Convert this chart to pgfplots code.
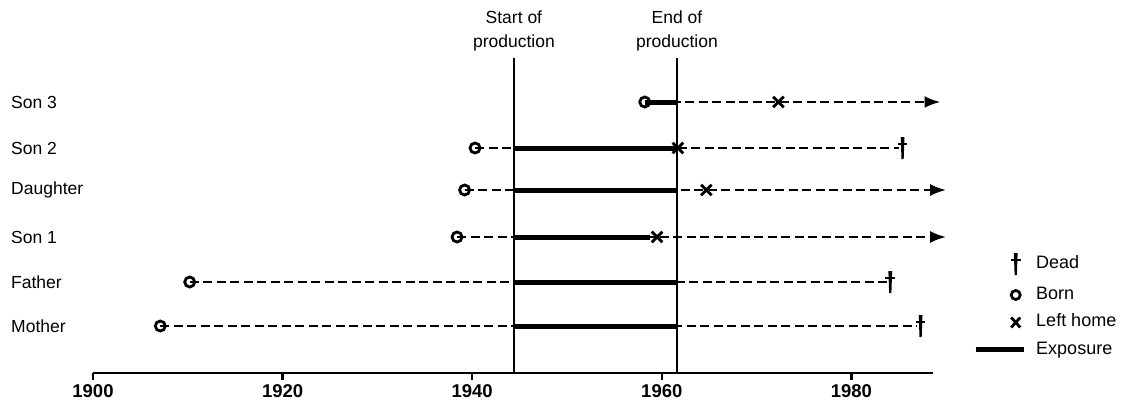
\documentclass[border=0pt]{standalone}
\usepackage{pgfplots}
\pgfplotsset{compat=1.18}
\usepackage{fontspec}
\setmainfont{Liberation Sans}
\usetikzlibrary{arrows.meta}
\pgfdeclareplotmark{dagger}{%
  \pgfpathmoveto{\pgfpoint{-1.9pt}{11pt}}%
  \pgfpathlineto{\pgfpoint{1.9pt}{11pt}}%
  \pgfpathlineto{\pgfpoint{1.1pt}{-11pt}}%
  \pgfpathlineto{\pgfpoint{-1.1pt}{-11pt}}%
  \pgfpathclose
  \pgfusepathqfill
  \pgfsetlinewidth{2.4pt}%
  \pgfpathmoveto{\pgfpoint{-4.8pt}{4pt}}%
  \pgfpathlineto{\pgfpoint{4.8pt}{4pt}}%
  \pgfusepathqstroke}
\begin{document}
\begin{tikzpicture}[x=1pt,y=1pt]
\begin{axis}[
  scale only axis,
  width=839.9pt, height=373pt,
  xmin=1900, xmax=1988.6,
  ymin=27, ymax=400,
  axis x line*=bottom,
  axis y line=none,
  x axis line style={-, line width=2.6pt},
  xtick={1900,1920,1940,1960,1980},
  tick align=outside,
  major tick length=7pt,
  xtick style={line width=2.4pt, black},
  xticklabel style={font=\fontsize{18.5}{21}\selectfont\bfseries, yshift=-1pt},
  /pgf/number format/assume math mode=true,
  /pgf/number format/1000 sep={},
  clip=false,
  font=\fontsize{17.5}{20}\selectfont,
  legend style={at={(axis cs:1992.83,147)}, anchor=north west, draw=none, fill=none,
    font=\fontsize{18}{20}\selectfont, row sep=12pt, column sep=10pt, inner sep=0pt,
    nodes={inner sep=0pt, text height=12pt, text depth=3.5pt}},
  legend cell align=left,
]
% bounding box = whole picture
\path (axis cs:1890.19,0) rectangle (axis cs:2009.6,400);

% production lines
\addplot[line width=2.5pt, forget plot] coordinates {(1944.4,27) (1944.4,342)};
\addplot[line width=2.5pt, forget plot] coordinates {(1961.6,27) (1961.6,342)};

% born circles
\addplot[only marks, mark=o, mark size=5pt, mark options={line width=2.8pt}, forget plot] coordinates {
 (1907.1,74) (1910.2,118) (1938.4,163) (1939.2,210) (1940.3,252) (1958.2,298)};

% dashed lines (birth to end)
\pgfplotsset{dsh/.style={line width=2.6pt, dash pattern=on 9pt off 4.5pt, forget plot}}
\addplot[dsh] coordinates {(1907.1,74) (1986.9,74)};
\addplot[dsh] coordinates {(1910.2,118) (1983.8,118)};
\addplot[dsh, -{Latex[length=16pt,width=12pt]}] coordinates {(1938.4,163) (1990.0,163)};
\addplot[dsh, -{Latex[length=16pt,width=12pt]}] coordinates {(1939.2,210) (1990.0,210)};
\addplot[dsh] coordinates {(1940.3,252) (1985.0,252)};
\addplot[dsh, -{Latex[length=16pt,width=12pt]}] coordinates {(1958.2,298) (1989.4,298)};

% exposure
\pgfplotsset{expo/.style={line width=5pt, forget plot}}
\addplot[expo] coordinates {(1944.4,74) (1961.6,74)};
\addplot[expo] coordinates {(1944.4,118) (1961.6,118)};
\addplot[expo] coordinates {(1944.4,163) (1958.8,163)};
\addplot[expo] coordinates {(1944.4,210) (1961.6,210)};
\addplot[expo] coordinates {(1944.4,252) (1961.6,252)};
\addplot[expo] coordinates {(1958.2,298) (1961.6,298)};

% left home
\addplot[only marks, mark=x, mark size=7.5pt, mark options={line width=2.8pt}, forget plot] coordinates {
 (1959.5,163) (1964.7,210) (1961.7,252) (1972.3,298)};

% dead
\addplot[only marks, mark=dagger, forget plot] coordinates {
 (1987.3,74) (1984.1,118) (1985.4,252)};

% row labels
\node[anchor=west] at (axis cs:1891.0,74) {Mother};
\node[anchor=west] at (axis cs:1891.0,118) {Father};
\node[anchor=west] at (axis cs:1891.0,163) {Son 1};
\node[anchor=west] at (axis cs:1891.0,210) {Daughter};
\node[anchor=west] at (axis cs:1891.0,252) {Son 2};
\node[anchor=west] at (axis cs:1891.0,298) {Son 3};

% headings
\node[anchor=south, align=center, font=\fontsize{17.5}{24}\selectfont] at (axis cs:1944.4,345) {Start of\\production};
\node[anchor=south, align=center, font=\fontsize{17.5}{24}\selectfont] at (axis cs:1961.6,345) {End of\\production};

% legend
\addlegendimage{legend image code/.code={\path[draw=none] (0pt,-1pt) rectangle (48pt,1pt); \draw[mark=dagger] plot coordinates {(40pt,0pt)};}}
\addlegendentry{Dead}
\addlegendimage{legend image code/.code={\path[draw=none] (0pt,-1pt) rectangle (48pt,1pt); \draw[line width=2.8pt] (40pt,0pt) circle (4.5pt);}}
\addlegendentry{Born}
\addlegendimage{legend image code/.code={\path[draw=none] (0pt,-1pt) rectangle (48pt,1pt); \draw[line width=2.8pt] (35.5pt,-5pt) -- (44.5pt,5pt) (35.5pt,5pt) -- (44.5pt,-5pt);}}
\addlegendentry{Left home}
\addlegendimage{legend image code/.code={\draw[line width=5pt] (0pt,0pt) -- (48pt,0pt);}}
\addlegendentry{Exposure}
\end{axis}
\end{tikzpicture}
\end{document}
